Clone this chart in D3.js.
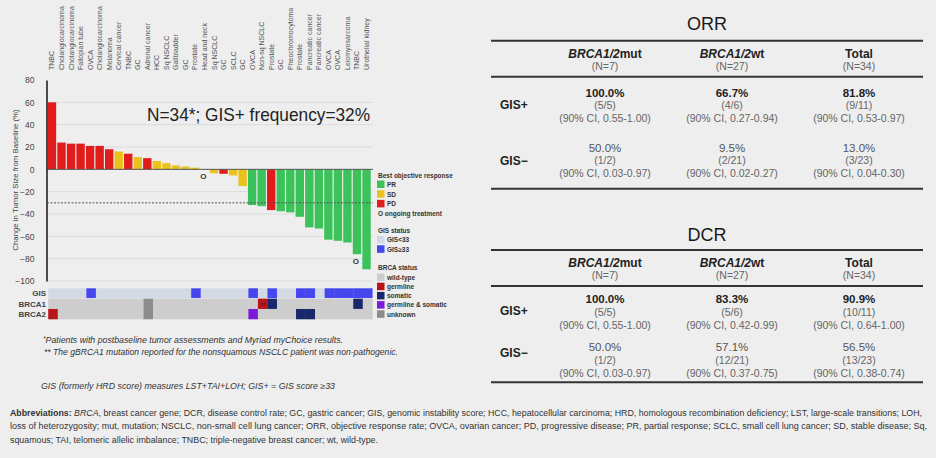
<!DOCTYPE html>
<html>
<head>
<meta charset="utf-8">
<script src="https://cdn.jsdelivr.net/npm/d3@7"></script>
<style>
body { margin: 0; background: #eeeeee; }
svg { display: block; }
text { font-family: "Liberation Sans", Arial, sans-serif; }
</style>
</head>
<body>
<div id="staticBody"></div>
<script>
// ---- data ----
var tumorTypes = ["TNBC","Cholangiocarcinoma","Cholangiocarcinoma","Fallopian tube","OVCA","Cholangiocarcinoma",
	"Melanoma","Cervical cancer","TNBC","GC","Adrenal cancer","HCC","Sq NSCLC","Gallbladder","GC","Prostate",
	"Head and neck","Sq NSCLC","GC","SCLC","GC","OVCA","Non-sq NSCLC","Prostate","GC","Pheochromocytoma",
	"Prostate","Pancreatic cancer","Pancreatic cancer","OVCA","OVCA","Leiomyosarcoma","TNBC","Urothelial kidney"];
var changePct = [60,24,23,23,21,21,18,16,14,11,10,7.5,5.5,3.5,2.5,1.5,0,-3.5,-4,-5.5,-15,-32,-33,-36.5,-37.5,
	-38.5,-42.5,-52,-53,-63,-64,-65.5,-76,-89.5];
var bestResponse = ["PD","PD","PD","PD","PD","PD","PD","SD","PD","SD","PD","SD","SD","SD","SD","SD","SD","SD",
	"PD","SD","SD","PR","PR","PD","PR","PR","PR","PR","PR","PR","PR","PR","PR","PR"];
var ongoing = [16, 32];
var gisHigh = [4, 15, 21, 23, 26, 27, 29, 30, 31, 32, 33];
var brca1Status = {10: "unknown", 22: "germline", 23: "somatic", 32: "somatic"};
var brca2Status = {0: "germline", 10: "unknown", 21: "germline & somatic", 26: "somatic", 27: "somatic"};
var nonPathogenic = 22;
var yTicks = [80,60,40,20,0,-20,-40,-60,-80,-100];
var heatRows = ["GIS","BRCA1","BRCA2"];

var colHeads = ["BRCA1/2","BRCA1/2","Total"];
var colSuffix = ["mut","wt",""];
var colN = ["(N=7)","(N=27)","(N=34)"];
var rowLabels = ["GIS+","GIS\u2212"];
var orrPct = [["100.0%","66.7%","81.8%"],["50.0%","9.5%","13.0%"]];
var orrFrac = [["(5/5)","(4/6)","(9/11)"],["(1/2)","(2/21)","(3/23)"]];
var orrCI = [["(90% CI, 0.55-1.00)","(90% CI, 0.27-0.94)","(90% CI, 0.53-0.97)"],
	["(90% CI, 0.03-0.97)","(90% CI, 0.02-0.27)","(90% CI, 0.04-0.30)"]];
var dcrPct = [["100.0%","83.3%","90.9%"],["50.0%","57.1%","56.5%"]];
var dcrFrac = [["(5/5)","(5/6)","(10/11)"],["(1/2)","(12/21)","(13/23)"]];
var dcrCI = [["(90% CI, 0.55-1.00)","(90% CI, 0.42-0.99)","(90% CI, 0.64-1.00)"],
	["(90% CI, 0.03-0.97)","(90% CI, 0.37-0.75)","(90% CI, 0.38-0.74)"]];

var respColor = { PR: "#3cc25a", SD: "#eac21e", PD: "#e01c1c" };
var gisColor = { low: "#d4d9e6", high: "#4646ee" };
var brcaColor = { "wild-type": "#cdcdcd", germline: "#b8141a", somatic: "#18286a",
	"germline & somatic": "#7a1bd6", unknown: "#8c8c8c" };

var svg = d3.select("#staticBody").append("svg")
	.attr("width", 936)
	.attr("height", 458);

svg.append("rect").attr("width", 936).attr("height", 458).attr("fill", "#eeeeee");

// ---- waterfall ----
var idx = d3.range(tumorTypes.length);

var x = d3.scaleBand()
	.domain(idx)
	.range([47.5, 371])
	.paddingInner(0.12)
	.paddingOuter(0.03);

var y = d3.scaleLinear()
	.domain([-100, 80])
	.range([281, 80]);

var plotRight = 373;

svg.append("g").selectAll("line.grid")
	.data(yTicks.filter(function(t){ return t != 0 && t != 80; }))
	.enter().append("line")
	.attr("class","grid")
	.attr("x1", 47).attr("x2", plotRight)
	.attr("y1", function(d){ return y(d); })
	.attr("y2", function(d){ return y(d); })
	.style("stroke","#dcdcdc")
	.style("stroke-width","1px");

svg.selectAll("rect.bar")
	.data(idx)
	.enter().append("rect")
	.attr("class","bar")
	.attr("x", function(i){ return x(i); })
	.attr("width", x.bandwidth())
	.attr("y", function(i){ return y(Math.max(0, changePct[i])); })
	.attr("height", function(i){ return Math.abs(y(changePct[i]) - y(0)); })
	.style("fill", function(i){ return respColor[bestResponse[i]]; });

svg.append("line")
	.attr("x1", 47).attr("x2", plotRight)
	.attr("y1", y(0)).attr("y2", y(0))
	.style("stroke","#555").style("stroke-width","1px");

svg.append("line")
	.attr("x1", 47).attr("x2", plotRight)
	.attr("y1", y(-30)).attr("y2", y(-30))
	.style("stroke","#555").style("stroke-width","1px")
	.style("stroke-dasharray","2,1.5");

svg.selectAll("text.ongoing")
	.data(ongoing)
	.enter().append("text")
	.attr("class","ongoing")
	.attr("x", function(i){ return x(i) + x.bandwidth()/2 - 1; })
	.attr("y", function(i){ return y(Math.min(0, changePct[i])) + 10; })
	.attr("text-anchor","middle")
	.style("font-size","8px").style("font-weight","bold").style("fill","#333")
	.text("O");

var yAxis = d3.axisLeft(y).tickValues(yTicks).tickSize(0).tickPadding(12);
var yg = svg.append("g")
	.attr("transform","translate(46.5,0)")
	.call(yAxis);
yg.select(".domain").style("stroke","#222").style("stroke-width","1.6px");
yg.selectAll("text").style("font-size","8.5px").style("fill","#444")
	.style("font-family","'Liberation Sans', Arial, sans-serif");

svg.append("text")
	.attr("transform","translate(18,180) rotate(-90)")
	.attr("text-anchor","middle")
	.style("font-size","7.8px").style("fill","#444")
	.text("Change in Tumor Size from Baseline (%)");

// tumour type labels along the top
svg.selectAll("text.ttype")
	.data(idx)
	.enter().append("text")
	.attr("class","ttype")
	.attr("transform", function(i){ return "translate(" + (x(i) + x.bandwidth()/2 + 2.5) + ",70) rotate(-90)"; })
	.attr("text-anchor","start")
	.style("font-size","7px").style("fill","#555")
	.text(function(i){ return tumorTypes[i]; });

svg.append("text")
	.attr("x", 147).attr("y", 121)
	.attr("textLength", 223).attr("lengthAdjust","spacingAndGlyphs")
	.style("font-size","19px").style("fill","#222")
	.text("N=34*; GIS+ frequency=32%");

// ---- heatmap ----
var rowY = d3.scaleBand().domain(heatRows).range([288.3, 319.3]);
var step = x.step();

function cellColor(row, i) {
	if (row == "GIS") return gisHigh.indexOf(i) >= 0 ? gisColor.high : gisColor.low;
	var s = (row == "BRCA1" ? brca1Status : brca2Status)[i] || "wild-type";
	return brcaColor[s];
}

heatRows.forEach(function(row){
	svg.append("g").selectAll("rect")
		.data(idx)
		.enter().append("rect")
		.attr("x", function(i){ return x(i) - step*x.paddingInner()/2 + 1; })
		.attr("y", rowY(row))
		.attr("width", step + 0.3)
		.attr("height", rowY.bandwidth() - (row == "GIS" ? 0.6 : 0))
		.style("fill", function(i){ return cellColor(row, i); });
	svg.append("text")
		.attr("x", 46).attr("y", rowY(row) + rowY.bandwidth()/2 + 3)
		.attr("text-anchor","end")
		.style("font-size","8px").style("font-weight","bold").style("fill","#444")
		.text(row);
});

svg.append("text")
	.attr("x", x(nonPathogenic) - step*x.paddingInner()/2 + 1 + step/2)
	.attr("y", rowY("BRCA1") + rowY.bandwidth()/2 + 3)
	.attr("text-anchor","middle")
	.style("font-size","6px").style("fill","#222")
	.text("**");

// ---- legend ----
var lg = svg.append("g").attr("transform","translate(377,0)");
function legendTitle(t, yy) {
	lg.append("text").attr("x", 1).attr("y", yy)
		.style("font-size","6.5px").style("font-weight","bold").style("fill","#333").text(t);
}
function legendItems(keys, colors, y0, gap) {
	lg.selectAll(null).data(keys).enter().append("rect")
		.attr("x", 0).attr("y", function(d, i){ return y0 + i*gap; })
		.attr("width", 7.5).attr("height", 7.5)
		.style("fill", function(d){ return colors[d]; });
	lg.selectAll(null).data(keys).enter().append("text")
		.attr("x", 10).attr("y", function(d, i){ return y0 + i*gap + 6.3; })
		.style("font-size","6.5px").style("font-weight","bold").style("fill","#333")
		.text(function(d){ return d; });
}
legendTitle("Best objective response", 178);
legendItems(["PR","SD","PD"], respColor, 180.5, 9.7);
lg.append("text").attr("x", 1).attr("y", 216)
	.style("font-size","6.5px").style("font-weight","bold").style("fill","#333").text("O  ongoing treatment");
legendTitle("GIS status", 233);
legendItems(["GIS<33","GIS\u226533"], { "GIS<33": gisColor.low, "GIS\u226533": gisColor.high }, 236, 9.3);
legendTitle("BRCA status", 269.5);
legendItems(["wild-type","germline","somatic","germline & somatic","unknown"], brcaColor, 273.5, 9.2);

// ---- footnotes ----
var fn = svg.append("g").style("font-style","italic").style("fill","#333");
var f1 = fn.append("text").attr("x", 43).attr("y", 342.5).style("font-size","8.5px")
	.attr("textLength", 300).attr("lengthAdjust","spacingAndGlyphs");
f1.append("tspan").attr("dy", -2).style("font-size","6.5px").text("*");
f1.append("tspan").attr("dy", 2).text("Patients with postbaseline tumor assessments and Myriad myChoice results.");
fn.append("text").attr("x", 44).attr("y", 355).style("font-size","8.5px")
	.attr("textLength", 354).attr("lengthAdjust","spacingAndGlyphs")
	.text("** The gBRCA1 mutation reported for the nonsquamous NSCLC patient was non-pathogenic.");
fn.append("text").attr("x", 41).attr("y", 389).style("font-size","8.5px")
	.attr("textLength", 294).attr("lengthAdjust","spacingAndGlyphs")
	.text("GIS (formerly HRD score) measures LST+TAI+LOH; GIS+ = GIS score \u226533");

var abbrLines = [
	"BRCA, breast cancer gene; DCR, disease control rate; GC, gastric cancer; GIS, genomic instability score; HCC, hepatocellular carcinoma; HRD, homologous recombination deficiency; LST, large-scale transitions; LOH,",
	"loss of heterozygosity; mut, mutation; NSCLC, non-small cell lung cancer; ORR, objective response rate; OVCA, ovarian cancer; PD, progressive disease; PR, partial response; SCLC, small cell lung cancer; SD, stable disease; Sq,",
	"squamous; TAI, telomeric allelic imbalance; TNBC; triple-negative breast cancer; wt, wild-type."
];
var abbrEnds = [922, 927, 378];
var ab = svg.append("g").style("font-size","8.5px").style("fill","#333");
abbrLines.forEach(function(line, i){
	var t = ab.append("text").attr("x", 10).attr("y", 416 + i*13.3)
		.attr("textLength", abbrEnds[i] - 10).attr("lengthAdjust","spacingAndGlyphs");
	if (i == 0) {
		t.append("tspan").style("font-weight","bold").text("Abbreviations: ");
		t.append("tspan").style("font-style","italic").text("BRCA");
		t.append("tspan").text(line.slice(4));
	} else {
		t.text(line);
	}
});

// ---- tables ----
var colX = [605, 732, 859];

function drawTable(title, pct, frac, ci, L) {
	var g = svg.append("g");
	g.append("text").attr("x", 707).attr("y", L.title).attr("text-anchor","middle")
		.style("font-size","18px").style("fill","#1a1a1a").text(title);
	L.rules.forEach(function(r){
		g.append("line").attr("x1", 491).attr("x2", 923).attr("y1", r).attr("y2", r)
			.style("stroke","#333").style("stroke-width","2px");
	});
	colX.forEach(function(cx, c){
		var h = g.append("text").attr("x", cx).attr("y", L.head).attr("text-anchor","middle")
			.style("font-size","12px").style("font-weight","bold").style("fill","#222");
		if (colSuffix[c]) {
			h.append("tspan").style("font-style","italic").text(colHeads[c]);
			h.append("tspan").text(colSuffix[c]);
		} else {
			h.text(colHeads[c]);
		}
		g.append("text").attr("x", cx).attr("y", L.n).attr("text-anchor","middle")
			.style("font-size","10.5px").style("fill","#666").text(colN[c]);
	});
	rowLabels.forEach(function(lab, r){
		var R = L.rows[r];
		g.append("text").attr("x", 500).attr("y", R.label)
			.style("font-size","12px").style("font-weight","bold").style("fill","#222").text(lab);
		colX.forEach(function(cx, c){
			g.append("text").attr("x", cx).attr("y", R.pct).attr("text-anchor","middle")
				.style("font-size","11.5px").style("font-weight", r == 0 ? "bold" : "normal")
				.style("fill", r == 0 ? "#222" : "#555").text(pct[r][c]);
			g.append("text").attr("x", cx).attr("y", R.pct + 12.5).attr("text-anchor","middle")
				.style("font-size","10.5px").style("fill","#666").text(frac[r][c]);
			g.append("text").attr("x", cx).attr("y", R.pct + 25.5).attr("text-anchor","middle")
				.style("font-size","10.5px").style("fill","#666").text(ci[r][c]);
		});
	});
}

drawTable("ORR", orrPct, orrFrac, orrCI, {
	title: 30, rules: [40.7, 76.7, 188.7], head: 57.5, n: 69.5,
	rows: [{ pct: 96.5, label: 109 }, { pct: 151.5, label: 165 }]
});
drawTable("DCR", dcrPct, dcrFrac, dcrCI, {
	title: 240.5, rules: [250, 286, 382.3], head: 266.7, n: 279,
	rows: [{ pct: 303.3, label: 315 }, { pct: 351, label: 357 }]
});
</script>
</body>
</html>
